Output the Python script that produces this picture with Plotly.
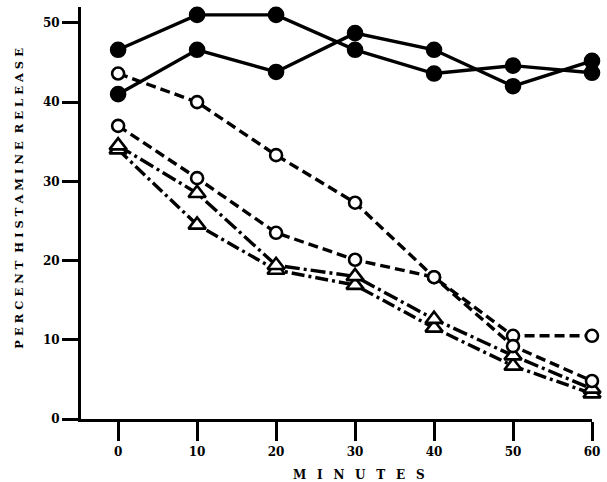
import plotly.graph_objects as go

minutes = [0, 10, 20, 30, 40, 50, 60]

filled_a = [46.6, 51.0, 51.0, 46.6, 43.6, 44.6, 43.7]
filled_b = [41.0, 46.6, 43.8, 48.7, 46.6, 42.0, 45.2]
open_a = [43.6, 40.0, 33.3, 27.3, 17.9, 9.2, 4.8]
open_b = [37.0, 30.4, 23.5, 20.1, 17.9, 10.5, 10.5]
tri_a = [34.5, 28.5, 19.4, 18.0, 12.6, 8.0, 3.8]
tri_b = [34.0, 24.5, 18.8, 16.9, 11.5, 6.7, 3.2]

x_ticks = [0, 10, 20, 30, 40, 50, 60]
y_ticks = [0, 10, 20, 30, 40, 50]

fig = go.Figure()

def add(y, symbol, fill, dash, size):
    fig.add_trace(go.Scatter(
        x=minutes, y=y, mode="lines+markers",
        line=dict(color="black", width=3.4, dash=dash),
        marker=dict(symbol=symbol, size=size, color=fill,
                    line=dict(color="black", width=2.6)),
        cliponaxis=False, showlegend=False))

add(tri_b, "triangle-up", "white", "13px,4px,3px,4px", 15)
add(tri_a, "triangle-up", "white", "15px,4px,3px,4px", 15)
add(open_b, "circle", "white", "10px,5px", 12)
add(open_a, "circle", "white", "10px,5px", 12)
add(filled_b, "circle", "black", "solid", 14)
add(filled_a, "circle", "black", "solid", 14)

tick_font = dict(family="DejaVu Serif", size=12, color="black", weight="bold")

y_title = "\u00a0\u00a0".join(["\u00a0".join(w) for w in ["PERCENT", "HISTAMINE", "RELEASE"]])
x_title = "\u00a0\u00a0\u2009".join("MINUTES")

fig.update_layout(
    width=607, height=482,
    margin=dict(l=81, r=15, t=7, b=63),
    paper_bgcolor="white", plot_bgcolor="white",
    font=dict(family="DejaVu Serif", color="black"),
    xaxis=dict(range=[-4.7, 60], tickvals=x_ticks, ticks="outside", ticklen=19, tickwidth=3,
               tickcolor="black", showline=True, linecolor="black", linewidth=3,
               showgrid=False, zeroline=False, tickfont=tick_font, ticklabelstandoff=1),
    yaxis=dict(range=[0, 52.0], tickvals=y_ticks, ticks="outside", ticklen=16, tickwidth=3,
               tickcolor="black", showline=True, linecolor="black", linewidth=3,
               showgrid=False, zeroline=False, tickfont=tick_font),
    annotations=[
        dict(text=y_title, xref="paper", yref="paper", x=-0.123, y=0.535,
             xanchor="center", yanchor="middle", textangle=-90,
             showarrow=False, font=dict(family="DejaVu Serif", size=11.5, color="black", weight="bold")),
        dict(text=x_title, xref="paper", yref="paper", x=0.544, y=-0.135,
             xanchor="center", yanchor="middle", showarrow=False,
             font=dict(family="DejaVu Serif", size=12, color="black", weight="bold")),
    ],
)

fig.write_html("out.html")
